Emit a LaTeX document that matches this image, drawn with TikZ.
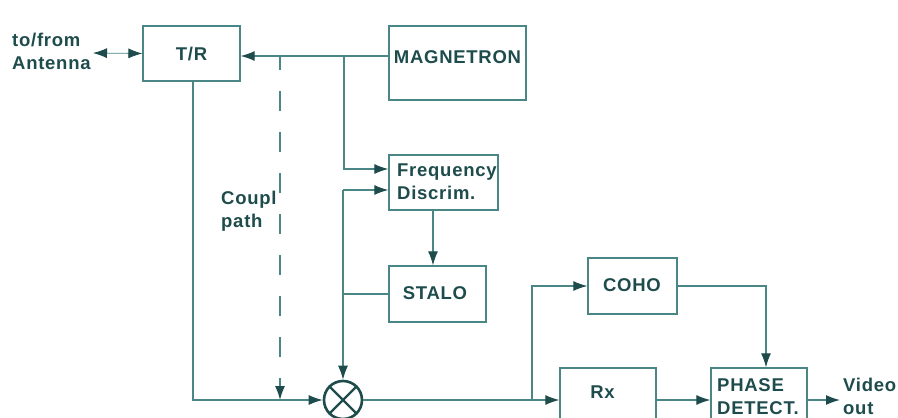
\documentclass[tikz,border=0pt]{standalone}
\usepackage{fontspec}
\setmainfont[LetterSpace=4]{Liberation Sans}
\usetikzlibrary{arrows.meta, calc, positioning}
\definecolor{wire}{HTML}{4A8686}
\definecolor{ink}{HTML}{1E4C4C}
\tikzset{
  tip/.tip={Latex[length=14pt, width=10pt, color=ink]},
  blk/.style={draw=wire, line width=1.3pt, rectangle, inner sep=0pt},
  sig/.style={draw=wire, line width=1.2pt, -tip},
  wire/.style={draw=wire, line width=1.2pt},
  lbl/.style={text=ink, font=\bfseries\fontsize{18.5}{23}\selectfont, inner sep=0pt},
}

\begin{document}
\begin{tikzpicture}[x=1pt, y=-1pt, >=Latex]
  \useasboundingbox (0,0) rectangle (898,418);
  \clip (0,0) rectangle (898,418);
  % blocks
  \node[blk, minimum width=97pt, minimum height=55pt] (tr) at (191.5,53.5) {};
  \node[lbl] (trtxt) at (tr.center) {T/R};
  \node[blk, minimum width=137pt, minimum height=74pt] (mag) at (457.5,63) {};
  \node[lbl] (magtxt) at (457.5,57) {MAGNETRON};
  \node[blk, minimum width=109pt, minimum height=55pt] (freq) at (443.5,182.5) {};
  \node[lbl, align=left, anchor=west] (freqtxt) at (397,181.5) {Frequency\\Discrim.};
  \node[blk, minimum width=97pt, minimum height=56pt] (stalo) at (437.5,294) {};
  \node[lbl] (stalotxt) at (435,293) {STALO};
  \node[blk, minimum width=89pt, minimum height=56pt] (coho) at (632.5,286) {};
  \node[lbl] (cohotxt) at (632,285) {COHO};
  \node[blk, minimum width=96pt, minimum height=64pt] (rx) at (608,400) {};
  \node[lbl] (rxtxt) at (602.5,392) {Rx};
  \node[blk, minimum width=96pt, minimum height=64pt] (pd) at (759,400) {};
  \node[lbl, align=left, anchor=west] (pdtxt) at (717,396.5) {PHASE\\DETECT.};
  % mixer
  \node[circle, draw=ink, line width=2.6pt, minimum size=38pt, inner sep=0pt] (mix) at (343,400) {};
  \draw[ink, line width=2.4pt] (mix.45) -- (mix.225) (mix.135) -- (mix.315);
  % free texts
  \node[lbl, align=left, anchor=west] (ant) at (12,51) {to/from\\Antenna};
  \node[lbl, align=left, anchor=west] (coup) at (221,211) {Coupl\\path};
  \node[lbl, align=left, anchor=west] (vid) at (843,396.5) {Video\\out};
  % junctions
  \coordinate (antend) at (93,53);
  \coordinate (m1) at (389,56);
  \coordinate (m2) at (344,56);
  \coordinate (cp) at (280,56);
  \coordinate (j1) at (343,190);
  \coordinate (j2) at (532,400);
  \coordinate (vend) at (840,400);
  % connectors
  \draw[sig, line width=0.8pt, tip-tip] (antend) -- (tr.west);
  \draw[sig] (m1) -- (m1 -| tr.east);
  \draw[sig, dash pattern=on 20pt off 21pt, dash phase=6pt] (cp) -- (cp |- mix.west);
  \draw[sig] (m2) |- ([yshift=13.5pt]freq.west);
  \draw[sig] (j1) -- (j1 -| freq.west);
  \draw[sig] (j1) -- (mix.north);
  \draw[wire] (stalo.west) -- (stalo.west -| j1);
  \draw[sig] ([xshift=-10.5pt]freq.south) -- ([xshift=-4.5pt]stalo.north);
  \draw[sig] ([xshift=1.5pt]tr.south) |- (mix.west);
  \draw[sig] (mix.east) -- (rx.west);
  \draw[sig] (j2) |- (coho.west);
  \draw[sig] (coho.east) -| ([xshift=7pt]pd.north);
  \draw[sig] (rx.east) -- (pd.west);
  \draw[sig] (pd.east) -- (vend);
\end{tikzpicture}
\end{document}
